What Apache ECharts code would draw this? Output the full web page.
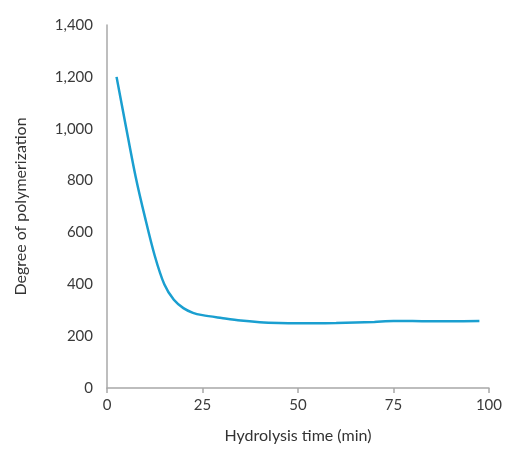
<!DOCTYPE html>
<html>
<head>
<meta charset="utf-8">
<script src="https://cdn.jsdelivr.net/npm/echarts@6/dist/echarts.min.js"></script>
<style>
  html, body { margin: 0; padding: 0; background: #fff; }
  #chart { width: 505px; height: 449px; }
</style>
</head>
<body>
<div id="chart"></div>
<script>
// Hydrolysis time (min)
const timeMin = [2.5, 5, 7.5, 10, 12.5, 15, 17.5, 20, 22.5, 25, 30, 35, 40, 45, 50, 55, 60, 65, 70, 75, 80, 85, 90, 97.5];
// Degree of polymerization
const dpValues = [1200, 1005, 815, 655, 510, 400, 340, 308, 290, 281, 270, 260, 254, 251, 250, 250, 251, 253, 255, 258, 258, 257, 257, 258];
const xTicks = [0, 25, 50, 75, 100];

const points = timeMin.map((t, i) => [t, dpValues[i]]);
const font = 'Lato, "Open Sans", sans-serif';

const chart = echarts.init(document.getElementById('chart'), null, { renderer: 'canvas' });
chart.setOption({
  animation: false,
  backgroundColor: '#ffffff',
  grid: { left: 107, right: 12, top: 25, bottom: 60 },
  xAxis: {
    type: 'value',
    min: xTicks[0],
    max: xTicks[xTicks.length - 1],
    interval: 25,
    name: 'Hydrolysis time (min)',
    nameLocation: 'middle',
    nameGap: 40,
    nameTextStyle: { fontFamily: font, fontSize: 16, color: '#333' },
    axisLine: { lineStyle: { color: '#a8a8a8', width: 1.5 } },
    axisTick: { show: true, length: 5, lineStyle: { color: '#a8a8a8', width: 1.5 } },
    axisLabel: { fontFamily: font, fontSize: 15, color: '#3a3a3a', margin: 10 },
    splitLine: { show: false }
  },
  yAxis: {
    type: 'value',
    min: 0,
    max: 1400,
    interval: 200,
    name: 'Degree of polymerization',
    nameLocation: 'middle',
    nameGap: 78,
    nameTextStyle: { fontFamily: font, fontSize: 16, color: '#333' },
    axisLine: { show: true, lineStyle: { color: '#a8a8a8', width: 1.5 } },
    axisTick: { show: false },
    axisLabel: {
      fontFamily: font, fontSize: 15, color: '#3a3a3a', margin: 14,
      formatter: v => v.toLocaleString('en-US')
    },
    splitLine: { show: false }
  },
  series: [{
    type: 'line',
    data: points,
    smooth: 0.3,
    showSymbol: false,
    lineStyle: { color: '#1a9fd0', width: 2.5 }
  }]
});
</script>
</body>
</html>
